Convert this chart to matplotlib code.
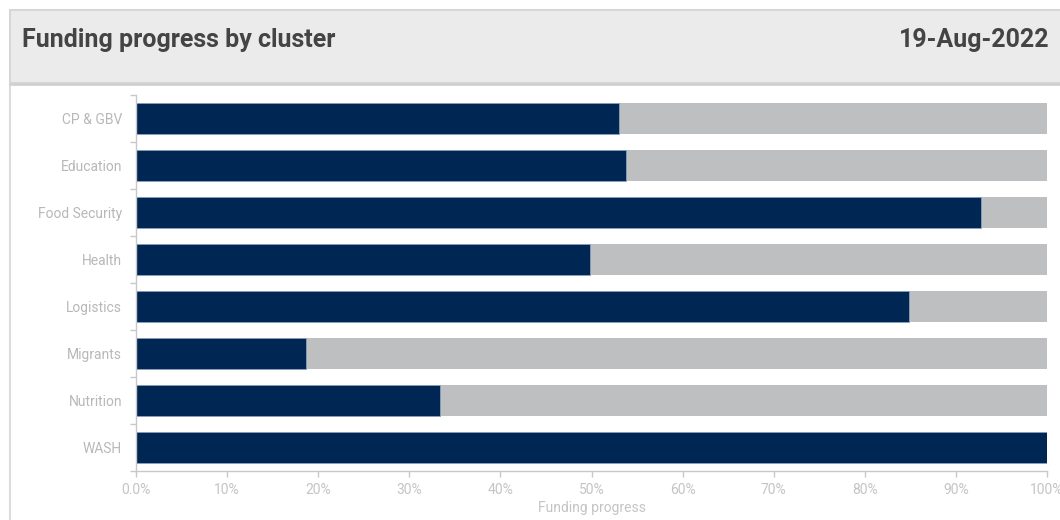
import matplotlib
matplotlib.use("Agg")
import matplotlib.pyplot as plt
from matplotlib.patches import Rectangle
from matplotlib.lines import Line2D
from matplotlib.ticker import FixedLocator

categories = ["CP & GBV", "Education", "Food Security", "Health",
              "Logistics", "Migrants", "Nutrition", "WASH"]
funded_pct = [53.0, 53.8, 92.8, 49.8, 84.9, 18.7, 33.4, 100.0]
total_pct = [100, 100, 100, 100, 100, 100, 100, 100]
x_ticks = [0, 10, 20, 30, 40, 50, 60, 70, 80, 90, 100]
x_tick_labels = ["0.0%", "10%", "20%", "30%", "40%", "50%", "60%", "70%", "80%", "90%", "100%"]
title = "Funding progress by cluster"
date_label = "19-Aug-2022"
x_label = "Funding progress"

plt.rcParams['font.family'] = ['Roboto', 'DejaVu Sans']

W, H = 1060, 520
fig = plt.figure(figsize=(W / 100, H / 100), dpi=100)
fig.patch.set_facecolor("white")

# header panel
hdr = Rectangle((10 / W, 1 - 83 / H), 1.2, 73 / H, transform=fig.transFigure,
                facecolor="#ebebeb", edgecolor="#d6d6d6", linewidth=1.5, zorder=0)
fig.patches.append(hdr)
fig.lines.append(Line2D([10 / W, 10 / W], [0, 1 - 83 / H], transform=fig.transFigure,
                        color="#dcdcdc", linewidth=1.5))
fig.lines.append(Line2D([10 / W, 1], [1 - 84 / H, 1 - 84 / H], transform=fig.transFigure,
                        color="#d0d0d0", linewidth=2))

title_fam = ['Roboto', 'DejaVu Sans']
fig.text(22 / W, 1 - 40 / H, title, ha="left", va="center", fontsize=18,
         fontweight="bold", color="#444444", family=title_fam)
fig.text(1050 / W, 1 - 40 / H, date_label, ha="right", va="center", fontsize=18,
         fontweight="bold", color="#444444", family=title_fam)

ax = fig.add_axes([136 / W, 1 - 471 / H, (1047 - 136) / W, (471 - 95) / H])
y = list(range(len(categories)))
ax.barh(y, total_pct, height=0.64, color="#bebfc1", edgecolor="none", zorder=1)
ax.barh(y, funded_pct, height=0.64, color="#002654", edgecolor="#8da0bd",
        linewidth=0.6, zorder=2)

ax.set_xlim(0, 100)
ax.set_ylim(len(categories) - 0.5, -0.5)
ax.set_yticks(y)
ax.set_yticklabels(categories)
ax.yaxis.set_minor_locator(FixedLocator([i - 0.5 for i in range(len(categories) + 1)]))
ax.tick_params(axis="y", which="major", length=0, pad=10, labelsize=10, labelcolor="#b8b8b8")
ax.tick_params(axis="y", which="minor", length=4.5, width=1, color="#c8c8c8")
ax.set_xticks(x_ticks)
ax.set_xticklabels(x_tick_labels)
ax.tick_params(axis="x", length=4.5, width=1, color="#c8c8c8", labelsize=10,
               labelcolor="#c4c4c4", pad=4)
for s in ["top", "right"]:
    ax.spines[s].set_visible(False)
for s in ["left", "bottom"]:
    ax.spines[s].set_color("#c8c8c8")
    ax.spines[s].set_linewidth(1)
ax.set_xlabel(x_label, fontsize=10, color="#c4c4c4", labelpad=3)
ax.set_facecolor("white")

fig.savefig("out.png", dpi=100)
